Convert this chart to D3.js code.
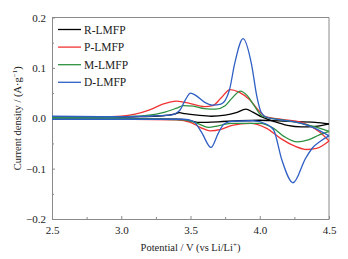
<!DOCTYPE html>
<html>
<head>
<meta charset="utf-8">
<script src="https://cdn.jsdelivr.net/npm/d3@7"></script>
<style>
  body { margin: 0; background: #fff; }
  text { font-family: "Liberation Serif", "Times New Roman", serif; fill: #222; }
</style>
</head>
<body>
<div class="cv"></div>
<script>
// CV data: [potential V, current A/g]
const seriesNames = ["R-LMFP", "P-LMFP", "M-LMFP", "D-LMFP"];
const seriesColors = ["#000000", "#f03333", "#2e9142", "#2f5fc4"];

const rUpper = [[2.5,0.002],[2.8,0.002],[3.1,0.003],[3.3,0.005],[3.38,0.008],[3.42,0.011],[3.46,0.009],[3.55,0.006],[3.65,0.004],[3.75,0.006],[3.83,0.011],[3.9,0.018],[3.95,0.012],[4.02,0.002],[4.1,-0.006],[4.2,-0.014],[4.3,-0.017],[4.4,-0.016],[4.5,-0.011]];
const rLower = [[2.5,-0.001],[3.0,-0.001],[3.4,-0.002],[3.48,-0.004],[3.55,-0.008],[3.7,-0.007],[3.85,-0.005],[4.0,-0.004],[4.2,-0.006],[4.4,-0.008],[4.5,-0.011]];

const pUpper = [[2.5,0.001],[2.8,0.002],[3.0,0.004],[3.1,0.008],[3.2,0.016],[3.3,0.028],[3.4,0.034],[3.5,0.029],[3.6,0.023],[3.66,0.025],[3.72,0.04],[3.785,0.057],[3.85,0.052],[3.93,0.036],[3.99,0.016],[4.04,0.003],[4.15,-0.002],[4.3,-0.008],[4.43,-0.027],[4.5,-0.045]];
const pLower = [[2.5,-0.002],[3.0,-0.002],[3.4,-0.003],[3.5,-0.008],[3.57,-0.018],[3.64,-0.025],[3.72,-0.022],[3.8,-0.014],[3.93,-0.01],[4.05,-0.02],[4.15,-0.04],[4.25,-0.055],[4.34,-0.062],[4.41,-0.06],[4.46,-0.053],[4.5,-0.045]];

const mUpper = [[2.5,0.002],[2.9,0.002],[3.1,0.004],[3.2,0.006],[3.3,0.011],[3.4,0.02],[3.45,0.025],[3.52,0.024],[3.6,0.019],[3.68,0.018],[3.75,0.025],[3.8,0.04],[3.86,0.054],[3.91,0.045],[3.96,0.025],[4.02,0.004],[4.15,-0.003],[4.3,-0.01],[4.4,-0.017],[4.5,-0.026]];
const mLower = [[2.5,-0.001],[3.0,-0.001],[3.45,-0.003],[3.55,-0.01],[3.63,-0.018],[3.7,-0.015],[3.8,-0.01],[4.0,-0.01],[4.1,-0.02],[4.18,-0.037],[4.27,-0.047],[4.35,-0.043],[4.43,-0.033],[4.5,-0.026]];

const dUpper = [[2.5,0.004],[2.9,0.003],[3.2,0.004],[3.35,0.006],[3.42,0.015],[3.46,0.035],[3.5,0.05],[3.54,0.045],[3.6,0.032],[3.66,0.026],[3.72,0.028],[3.78,0.055],[3.82,0.11],[3.88,0.158],[3.94,0.108],[3.98,0.042],[4.01,0.012],[4.05,0.002],[4.2,-0.005],[4.3,-0.01],[4.4,-0.02],[4.5,-0.035]];
const dLower = [[2.5,-0.002],[3.0,-0.002],[3.45,-0.002],[3.52,-0.006],[3.58,-0.028],[3.648,-0.058],[3.7,-0.03],[3.74,-0.012],[3.8,-0.006],[3.95,-0.005],[4.05,-0.012],[4.1,-0.023],[4.16,-0.083],[4.24,-0.128],[4.33,-0.08],[4.38,-0.059],[4.44,-0.045],[4.5,-0.035]];

const branches = [[rUpper, rLower], [pUpper, pLower], [mUpper, mLower], [dUpper, dLower]];

const xTicks = [2.5, 3.0, 3.5, 4.0, 4.5];
const yTicks = [-0.2, -0.1, 0.0, 0.1, 0.2];

const width = 348, height = 259;
const margin = { left: 52, right: 329, top: 17.5, bottom: 219 };

const svg = d3.select(".cv").append("svg")
    .attr("width", width)
    .attr("height", height);

const x = d3.scaleLinear().domain([2.5, 4.5]).range([margin.left, margin.right]);
const y = d3.scaleLinear().domain([-0.2, 0.2]).range([margin.bottom, margin.top]);

// frame (top + right)
svg.append("path")
    .attr("d", `M${margin.left},${margin.top}H${margin.right}V${margin.bottom}`)
    .attr("fill", "none")
    .attr("stroke", "#8a8a8a")
    .attr("stroke-width", 1);

// minor ticks
svg.append("g")
    .attr("transform", `translate(0,${margin.bottom})`)
    .call(d3.axisBottom(x).tickValues(d3.range(2.75, 4.5, 0.5)).tickSize(-2).tickFormat(""))
    .call(g => g.select(".domain").remove())
    .call(g => g.selectAll("line").attr("stroke", "#8a8a8a"));
svg.append("g")
    .attr("transform", `translate(${margin.left},0)`)
    .call(d3.axisLeft(y).tickValues([-0.15, -0.05, 0.05, 0.15]).tickSize(-2).tickFormat(""))
    .call(g => g.select(".domain").remove())
    .call(g => g.selectAll("line").attr("stroke", "#8a8a8a"));

// major axes
const xAxis = svg.append("g")
    .attr("transform", `translate(0,${margin.bottom})`)
    .call(d3.axisBottom(x).tickValues(xTicks).tickSizeInner(-3).tickSizeOuter(0).tickPadding(7).tickFormat(d3.format(".1f")));
const yAxis = svg.append("g")
    .attr("transform", `translate(${margin.left},0)`)
    .call(d3.axisLeft(y).tickValues(yTicks).tickSizeInner(-3).tickSizeOuter(0).tickPadding(6)
        .tickFormat(d => d3.format(".1f")(d).replace("-", "\u2212")));
[xAxis, yAxis].forEach(a => {
    a.select(".domain").attr("stroke", "#8a8a8a");
    a.selectAll("line").attr("stroke", "#8a8a8a");
    a.selectAll("text")
        .style("font-family", "'Liberation Serif', serif")
        .style("font-size", "11px")
        .attr("fill", "#222");
});

// curves
const line = d3.line()
    .x(d => x(d[0]))
    .y(d => y(d[1]))
    .curve(d3.curveMonotoneX);

branches.forEach((pair, i) => {
    pair.forEach(b => {
        svg.append("path")
            .attr("d", line(b))
            .attr("fill", "none")
            .attr("stroke", seriesColors[i])
            .attr("stroke-width", 1.3);
    });
});

// legend
const legend = svg.append("g");
seriesNames.forEach((name, i) => {
    const ly = 29.5 + i * 17.6;
    legend.append("line")
        .attr("x1", 58).attr("x2", 81)
        .attr("y1", ly).attr("y2", ly)
        .attr("stroke", seriesColors[i])
        .attr("stroke-width", 1.3);
    legend.append("text")
        .attr("x", 84)
        .attr("y", ly + 4)
        .style("font-size", "11.5px")
        .text(name);
});

// axis titles
const xt = svg.append("text")
    .attr("x", (margin.left + margin.right) / 2)
    .attr("y", 251)
    .attr("text-anchor", "middle")
    .style("font-size", "10.5px")
    .text("Potential / V (vs Li/Li");
xt.append("tspan").attr("dy", -4).style("font-size", "7px").text("+");
xt.append("tspan").attr("dy", 4).text(")");

const yt = svg.append("text")
    .attr("transform", `translate(21,${(margin.top + margin.bottom) / 2}) rotate(-90)`)
    .attr("text-anchor", "middle")
    .style("font-size", "10.5px")
    .text("Current density / (A\u00b7g");
yt.append("tspan").attr("dy", -4).style("font-size", "7px").text("\u22121");
yt.append("tspan").attr("dy", 4).text(")");
</script>
</body>
</html>
